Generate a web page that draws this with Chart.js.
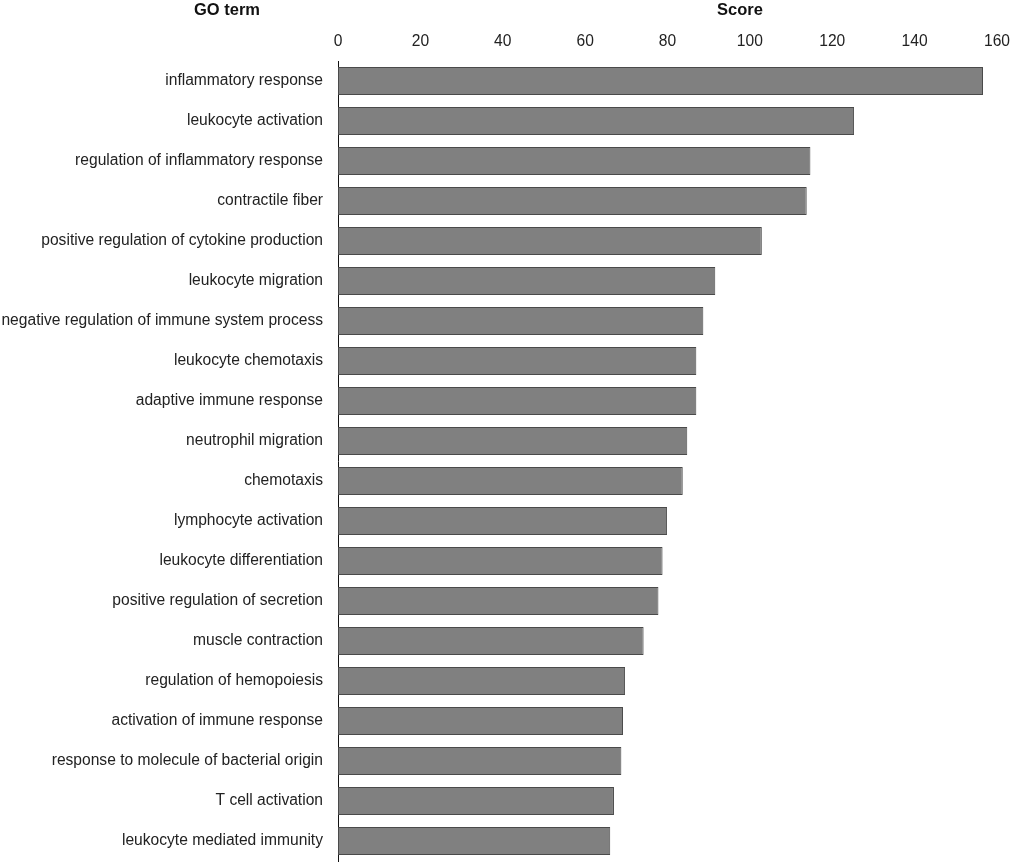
<!DOCTYPE html>
<html>
<head>
<meta charset="utf-8">
<script src="https://cdn.jsdelivr.net/npm/chart.js@4"></script>
<style>
  html, body { margin: 0; padding: 0; background: #fff; overflow: hidden; }
  canvas { display: block; }
</style>
</head>
<body>
<canvas id="goChart" width="1010" height="864"></canvas>
<script>
const termos = [
    'inflammatory response',
    'leukocyte activation',
    'regulation of inflammatory response',
    'contractile fiber',
    'positive regulation of cytokine production',
    'leukocyte migration',
    'negative regulation of immune system process',
    'leukocyte chemotaxis',
    'adaptive immune response',
    'neutrophil migration',
    'chemotaxis',
    'lymphocyte activation',
    'leukocyte differentiation',
    'positive regulation of secretion',
    'muscle contraction',
    'regulation of hemopoiesis',
    'activation of immune response',
    'response to molecule of bacterial origin',
    'T cell activation',
    'leukocyte mediated immunity'
];
const scores = [156.6, 125.3, 114.7, 113.8, 102.9, 91.6, 88.7, 87.0, 87.0, 84.8,
                83.7, 79.9, 78.8, 77.8, 74.2, 69.7, 69.2, 68.8, 67.0, 66.1];
const escalaMin = 0;
const escalaMax = 160;
const passo = 20;

const fonte = "'Liberation Sans', Arial, Helvetica, sans-serif";

// titulos das colunas
const titulosPlugin = {
    id: 'titulos',
    afterDraw(chart) {
        const ctx = chart.ctx;
        ctx.save();
        ctx.font = `bold 16.5px ${fonte}`;
        ctx.fillStyle = '#111';
        ctx.textAlign = 'center';
        ctx.textBaseline = 'middle';
        ctx.fillText('GO term', 227, 10);
        ctx.fillText('Score', 740, 10);
        ctx.restore();
    }
};

new Chart(document.getElementById('goChart'), {
    type: 'bar',
    data: {
        labels: termos,
        datasets: [{
            data: scores,
            backgroundColor: '#808080',
            borderColor: '#4a4a4a',
            borderWidth: 1,
            borderSkipped: false,
            categoryPercentage: 1,
            barPercentage: 0.7
        }]
    },
    options: {
        indexAxis: 'y',
        responsive: false,
        animation: false,
        devicePixelRatio: 1,
        layout: { padding: { top: 0, right: 13, bottom: 3, left: 0 } },
        plugins: {
            legend: { display: false },
            tooltip: { enabled: false }
        },
        scales: {
            x: {
                position: 'top',
                min: escalaMin,
                max: escalaMax,
                ticks: {
                    stepSize: passo,
                    color: '#222',
                    padding: 10,
                    font: { family: fonte, size: 15.6 }
                },
                grid: { display: false, drawTicks: false },
                border: { display: false },
                afterFit(scale) {
                    scale.height = 61;
                    scale.paddingLeft = 0;
                    scale.paddingRight = 0;
                }
            },
            y: {
                ticks: {
                    color: '#222',
                    padding: 15,
                    autoSkip: false,
                    font: { family: fonte, size: 15.6 }
                },
                grid: { display: false, drawTicks: false },
                border: { display: true, color: '#111', width: 1 },
                afterFit(scale) {
                    scale.width = 338;
                    scale.paddingTop = 0;
                    scale.paddingBottom = 0;
                }
            }
        }
    },
    plugins: [titulosPlugin]
});
</script>
</body>
</html>
